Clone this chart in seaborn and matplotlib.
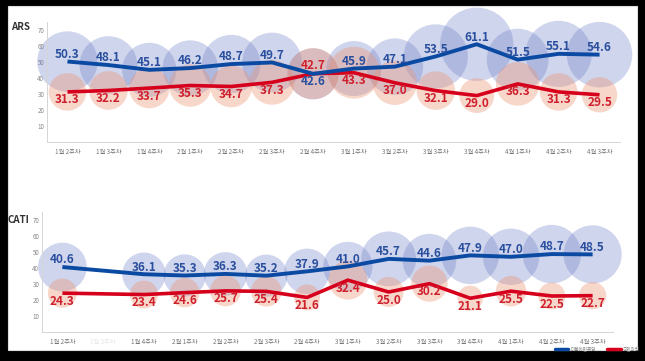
import numpy as np
import pandas as pd
import matplotlib
matplotlib.use("Agg")
import matplotlib.pyplot as plt
from matplotlib.patches import Rectangle
from matplotlib.lines import Line2D
import seaborn as sns

# data
weeks = ['1월 2주차', '1월 3주차', '1월 4주차', '2월 1주차', '2월 2주차', '2월 3주차', '2월 4주차',
         '3월 1주차', '3월 2주차', '3월 3주차', '3월 4주차', '4월 1주차', '4월 2주차', '4월 3주차']

ars_blue = [50.3, 48.1, 45.1, 46.2, 48.7, 49.7, 42.6, 45.9, 47.1, 53.5, 61.1, 51.5, 55.1, 54.6]
ars_red = [31.3, 32.2, 33.7, 35.3, 34.7, 37.3, 42.7, 43.3, 37.0, 32.1, 29.0, 36.3, 31.3, 29.5]

cati_blue = [40.6, np.nan, 36.1, 35.3, 36.3, 35.2, 37.9, 41.0, 45.7, 44.6, 47.9, 47.0, 48.7, 48.5]
cati_red = [24.3, np.nan, 23.4, 24.6, 25.7, 25.4, 21.6, 32.4, 25.0, 30.2, 21.1, 25.5, 22.5, 22.7]

party_names = ['더불어민주당', '국민의힘']

BLUE = '#0b4aa2'
RED = '#d6001c'
BLUE_TXT = '#2a4f9e'
RED_TXT = '#cf1f2c'
BUB_BLUE = '#7080c8'
BUB_RED = '#ee9070'

sns.set_style('white')
plt.rcParams['font.family'] = ['Noto Sans CJK KR', 'DejaVu Sans']

W, H = 645, 361
fig = plt.figure(figsize=(W / 100, H / 100), dpi=100, facecolor='black')
# white card behind everything
card = Rectangle((8 / W, 1 - 350 / H), 629 / W, 344 / H, transform=fig.transFigure,
                 facecolor='white', edgecolor='#dddddd', lw=0.8, zorder=-10)
fig.add_artist(card)


def panel(rect, blue, red, name, name_xy, swap=()):
    ax = fig.add_axes(rect)
    ax.set_facecolor('none')
    x = np.arange(len(weeks))
    df = pd.DataFrame({'x': x, 'blue': blue, 'red': red})
    scale = 0.864 ** 2
    d = df.dropna()
    sns.scatterplot(data=d, x='x', y='blue', s=scale * d['blue'] ** 2, color=BUB_BLUE,
                    alpha=0.33, linewidth=0, ax=ax, clip_on=False, zorder=1)
    sns.scatterplot(data=d, x='x', y='red', s=scale * d['red'] ** 2, color=BUB_RED,
                    alpha=0.36, linewidth=0, ax=ax, clip_on=False, zorder=2)
    sns.lineplot(data=d, x='x', y='red', color=RED, lw=2.6, ax=ax, zorder=3,
                 solid_capstyle='butt')
    sns.lineplot(data=d, x='x', y='blue', color=BLUE, lw=2.8, ax=ax, zorder=4,
                 solid_capstyle='butt')
    for _, r in d.iterrows():
        i = int(r['x'])
        ob, orr = 4.5, -5.0
        if i in swap:
            ob, orr = -5.0, 5.0
        ax.text(i, r['blue'] + ob, f"{r['blue']:.1f}", color=BLUE_TXT, fontsize=8.5,
                fontweight='bold', ha='center', va='center', zorder=6)
        ax.text(i, r['red'] + orr, f"{r['red']:.1f}", color=RED_TXT, fontsize=8.5,
                fontweight='bold', ha='center', va='center', zorder=6)

    ax.set_xlim(-0.5, len(weeks) - 0.5)
    ax.set_ylim(0, 75)
    ax.set_yticks(range(10, 80, 10))
    ax.set_yticklabels([str(v) for v in range(10, 80, 10)], fontsize=4.5, color='#888888')
    ax.set_xticks(x)
    labels = ax.set_xticklabels(weeks, fontsize=4.5, color='#777777')
    ax.set_xticks(np.arange(-0.5, len(weeks)), minor=True)
    ax.tick_params(axis='x', which='major', length=0, pad=4)
    ax.tick_params(axis='x', which='minor', length=3, color='#cccccc', width=0.6)
    ax.tick_params(axis='y', length=3, color='#dddddd', width=0.6, pad=2, direction='in')
    for s in ['top', 'right']:
        ax.spines[s].set_visible(False)
    for s in ['left', 'bottom']:
        ax.spines[s].set_color('#d5d5d5')
        ax.spines[s].set_linewidth(0.7)
    ax.set_xlabel('')
    ax.set_ylabel('')
    fig.text(name_xy[0] / W, 1 - name_xy[1] / H, name, fontsize=7, color='#333333',
             fontweight='bold', va='center', ha='left')
    return ax, labels


ax1, _ = panel([47 / W, 1 - 142 / H, 573 / W, 120 / H], ars_blue, ars_red, 'ARS', (11, 27),
               swap=(6,))
ax2, lab2 = panel([42 / W, 1 - 332 / H, 571 / W, 120 / H], cati_blue, cati_red, 'CATI', (8, 220))
lab2[1].set_color('#e6e6e6')

handles = [Line2D([], [], color=BLUE, lw=2.5), Line2D([], [], color=RED, lw=2.5)]
fig.legend(handles, party_names, loc='center right', bbox_to_anchor=(642 / W, 1 - 349 / H),
           ncol=2, frameon=False, fontsize=3.3, handlelength=3, columnspacing=2.5,
           handletextpad=0.4, labelcolor='#777777', borderpad=0)

fig.savefig('out.png', dpi=100, facecolor='black')
